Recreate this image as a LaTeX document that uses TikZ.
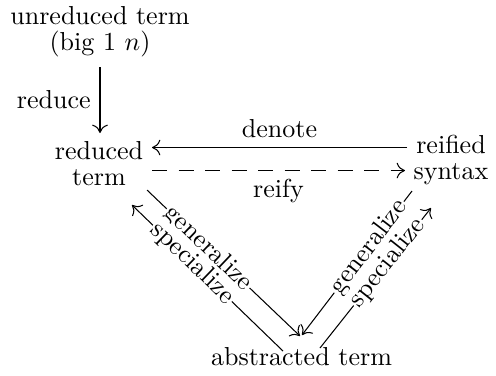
\documentclass[tikz,border=0pt]{standalone}
\usetikzlibrary{arrows.meta}
\begin{document}
\begin{tikzpicture}[x=0.3846pt,y=-0.3846pt,
  lbl/.style={font=\fontsize{10pt}{9.8pt}\selectfont, align=center, inner sep=0pt, anchor=base},
  arr/.style={line width=0.4pt, -{Computer Modern Rightarrow[length=3.2pt,width=6pt]}},
  dsh/.style={dash pattern=on 5.8pt off 4.4pt},
  desc/.style={fill=white, inner sep=0.6pt, sloped, font=\fontsize{10pt}{12pt}\selectfont}]
\useasboundingbox (0,0) rectangle (496,375);
\node[lbl] (unr) at (100,50) {unreduced term\\(big 1 $n$)};
\node[lbl] (red) at (99,185) {reduced\\term};
\node[lbl] (rei) at (451,179) {reified\\syntax};
\node[lbl] (abs) at (301.5,365) {abstracted term};
% reduce
\draw[arr] ([shift={(0,17)}]unr.base) -- ([shift={(1,-52)}]red.base)
  node[midway, left, inner sep=3.4pt] {reduce};
% denote
\draw[arr] ([shift={(-44,-31.5)}]rei.base) -- ([shift={(53,-37.5)}]red.base)
  node[midway, above, inner sep=3.6pt] {denote};
% reify
\draw[arr, dsh] ([shift={(53,-14.5)}]red.base) -- ([shift={(-46,-8.5)}]rei.base)
  node[midway, below, inner sep=3.3pt] {reify};
% left pair
\draw[arr] ([shift={(48,5)}]red.base) -- ([shift={(-1.5,-29)}]abs.base)
  node[desc, pos=0.4] {generalize};
\draw[arr] ([shift={(-18.5,-14)}]abs.base) -- ([shift={(33,20)}]red.base)
  node[desc, pos=0.6] {specialize};
% right pair
\draw[arr] ([shift={(-39,12)}]rei.base) -- ([shift={(0.5,-30)}]abs.base)
  node[desc, pos=0.39] {generalize};
\draw[arr] ([shift={(18.5,-17)}]abs.base) -- ([shift={(-20,29)}]rei.base)
  node[desc, pos=0.61] {specialize};
\end{tikzpicture}
\end{document}
